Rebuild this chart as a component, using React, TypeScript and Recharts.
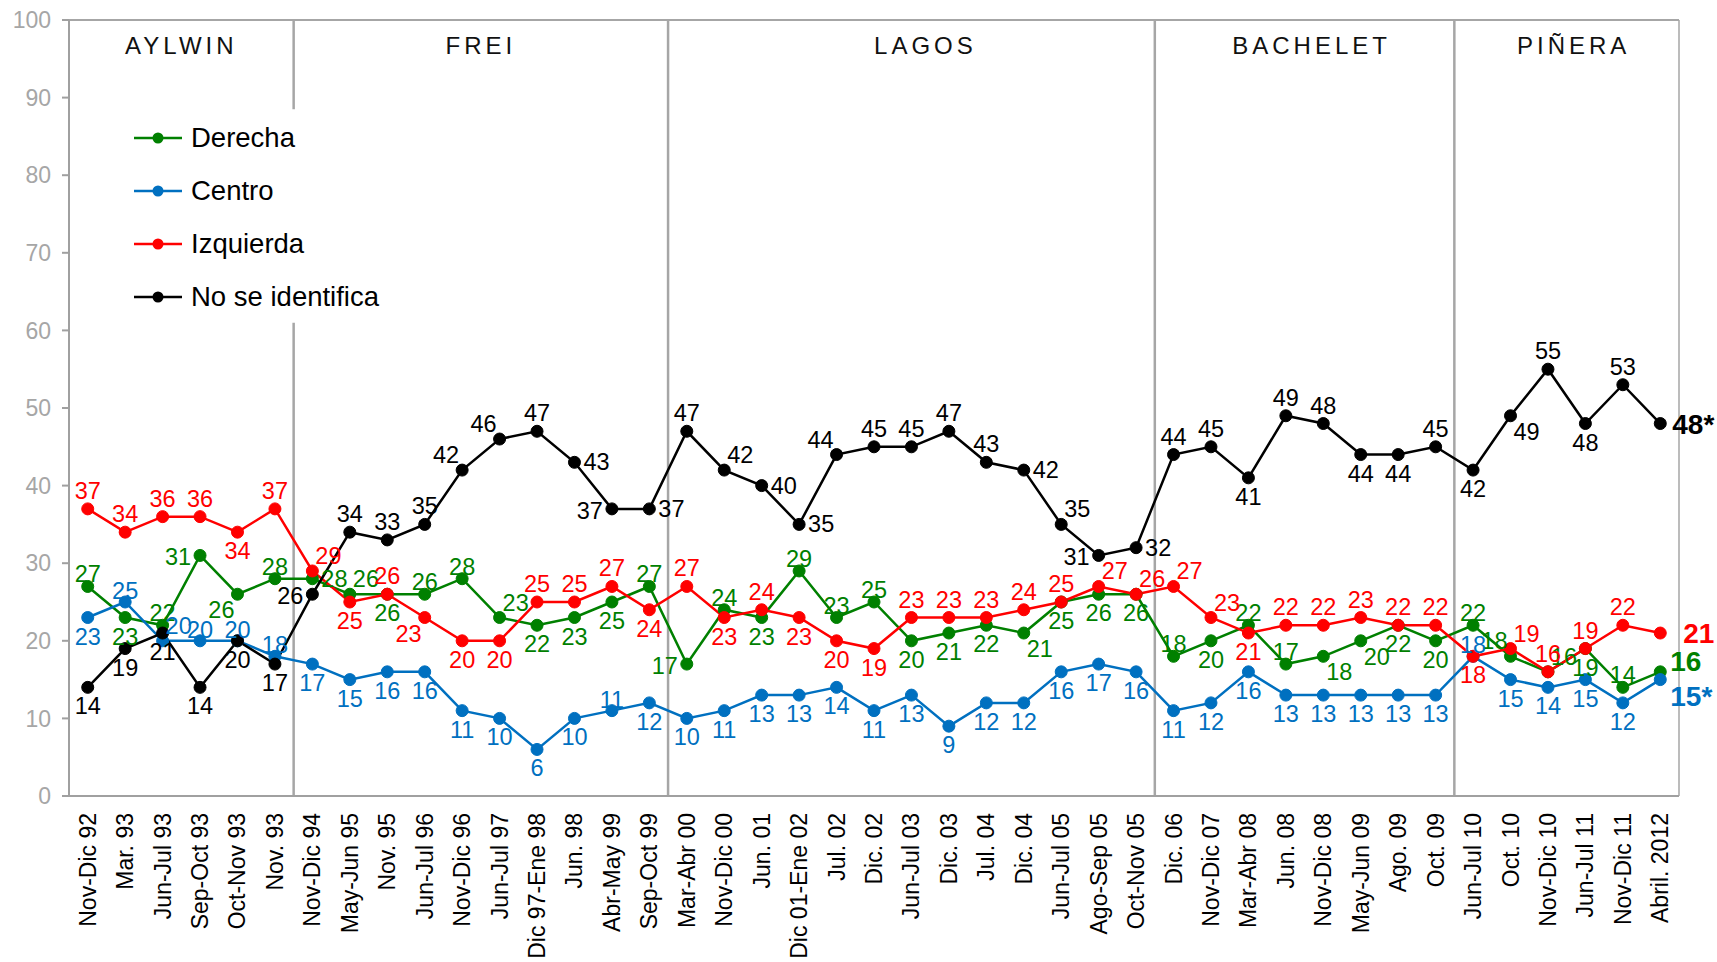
import {
  ComposedChart,
  LabelList,
  Legend,
  Line,
  ReferenceArea,
  ReferenceLine,
  XAxis,
  YAxis,
} from "recharts";

const CATEGORIES = [
  "Nov-Dic 92", "Mar. 93", "Jun-Jul 93", "Sep-Oct 93", "Oct-Nov 93", "Nov. 93",
  "Nov-Dic 94", "May-Jun 95", "Nov. 95", "Jun-Jul 96", "Nov-Dic 96", "Jun-Jul 97",
  "Dic 97-Ene 98", "Jun. 98", "Abr-May 99", "Sep-Oct 99", "Mar-Abr 00", "Nov-Dic 00",
  "Jun. 01", "Dic 01-Ene 02", "Jul. 02", "Dic. 02", "Jun-Jul 03", "Dic. 03",
  "Jul. 04", "Dic. 04", "Jun-Jul 05", "Ago-Sep 05", "Oct-Nov 05", "Dic. 06",
  "Nov-Dic 07", "Mar-Abr 08", "Jun. 08", "Nov-Dic 08", "May-Jun 09", "Ago. 09",
  "Oct. 09", "Jun-Jul 10", "Oct. 10", "Nov-Dic 10", "Jun-Jul 11", "Nov-Dic 11",
  "Abril. 2012",
];

const DERECHA = [27, 23, 22, 31, 26, 28, 28, 26, 26, 26, 28, 23, 22, 23, 25, 27, 17, 24, 23, 29, 23, 25, 20, 21, 22, 21, 25, 26, 26, 18, 20, 22, 17, 18, 20, 22, 20, 22, 18, 16, 19, 14, 16];
const CENTRO = [23, 25, 20, 20, 20, 18, 17, 15, 16, 16, 11, 10, 6, 10, 11, 12, 10, 11, 13, 13, 14, 11, 13, 9, 12, 12, 16, 17, 16, 11, 12, 16, 13, 13, 13, 13, 13, 18, 15, 14, 15, 12, 15];
const IZQUIERDA = [37, 34, 36, 36, 34, 37, 29, 25, 26, 23, 20, 20, 25, 25, 27, 24, 27, 23, 24, 23, 20, 19, 23, 23, 23, 24, 25, 27, 26, 27, 23, 21, 22, 22, 23, 22, 22, 18, 19, 16, 19, 22, 21];
const NO_IDENTIFICA = [14, 19, 21, 14, 20, 17, 26, 34, 33, 35, 42, 46, 47, 43, 37, 37, 47, 42, 40, 35, 44, 45, 45, 47, 43, 42, 35, 31, 32, 44, 45, 41, 49, 48, 44, 44, 45, 42, 49, 55, 48, 53, 48];

// presidential periods: first and last survey of each
const PERIODS = [
  { name: "AYLWIN", first: "Nov-Dic 92", last: "Nov. 93" },
  { name: "FREI", first: "Nov-Dic 94", last: "Sep-Oct 99" },
  { name: "LAGOS", first: "Mar-Abr 00", last: "Oct-Nov 05" },
  { name: "BACHELET", first: "Dic. 06", last: "Oct. 09" },
  { name: "PIÑERA", first: "Jun-Jul 10", last: "Abril. 2012" },
];
// small nudges of the period titles, px
const PERIOD_LABEL_DX: Record<string, number> = { LAGOS: 14, BACHELET: 7, PIÑERA: 7 };

const Y_TICKS = [0, 10, 20, 30, 40, 50, 60, 70, 80, 90, 100];

// label placement per point (t=top, b=bottom, l/r, diagonals, R* = bold end label)
type Pos = "t" | "b" | "l" | "r" | "tr" | "tl" | "br" | "bl" | "R" | "R2" | "Ru" | "Rd";

const DERECHA_POS: Pos[] = ["t", "b", "t", "l", "bl", "t", "r", "tr", "b", "t", "t", "tr", "b", "b", "b", "t", "l", "t", "b", "t", "t", "t", "b", "b", "b", "br", "b", "b", "b", "t", "b", "t", "t", "br", "br", "b", "b", "t", "tl", "tr", "b", "t", "Ru"];
const CENTRO_POS: Pos[] = ["b", "t", "tr", "t", "t", "t", "b", "b", "b", "b", "b", "b", "b", "b", "t", "b", "b", "b", "b", "b", "b", "b", "b", "b", "b", "b", "b", "b", "b", "b", "b", "b", "b", "b", "b", "b", "b", "t", "b", "b", "b", "b", "Rd"];
const IZQUIERDA_POS: Pos[] = ["t", "t", "t", "t", "b", "t", "tr", "b", "t", "bl", "b", "b", "t", "t", "t", "b", "t", "b", "t", "b", "b", "b", "t", "t", "t", "t", "t", "tr", "tr", "tr", "tr", "b", "t", "t", "t", "t", "t", "b", "tr", "t", "t", "t", "R2"];
const NO_IDENTIFICA_POS: Pos[] = ["b", "b", "b", "b", "b", "b", "l", "t", "t", "t", "tl", "tl", "t", "r", "l", "r", "t", "tr", "r", "r", "tl", "t", "t", "t", "t", "r", "tr", "l", "r", "t", "t", "b", "t", "t", "b", "b", "t", "b", "br", "t", "b", "t", "R"];

const FONT = '"Liberation Sans", Arial, Helvetica, sans-serif';
const AXIS_GRAY = "#a0a0a0";
const SEP_GRAY = "#a6a6a6";

const SERIES = [
  { key: "derecha", name: "Derecha", color: "#008000", values: DERECHA, pos: DERECHA_POS, topGap: 12, suffix: "" },
  { key: "centro", name: "Centro", color: "#0070C0", values: CENTRO, pos: CENTRO_POS, topGap: 11, suffix: "*" },
  { key: "izquierda", name: "Izquierda", color: "#FF0000", values: IZQUIERDA, pos: IZQUIERDA_POS, topGap: 18, suffix: "" },
  { key: "noId", name: "No se identifica", color: "#000000", values: NO_IDENTIFICA, pos: NO_IDENTIFICA_POS, topGap: 18, suffix: "*" },
];

const data = CATEGORIES.map((cat, i) => {
  const row: Record<string, string | number> = { cat, idx: i };
  SERIES.forEach((s) => {
    row[s.key] = s.values[i];
  });
  return row;
});

// tick marks sit between categories
const BOUNDARY_TICKS = CATEGORIES.map((_, i) => i - 0.5).concat(CATEGORIES.length - 0.5);

function offsetFor(p: Pos, topGap: number) {
  switch (p) {
    case "t": return { dx: 0, dy: -topGap, anchor: "middle", bold: false };
    case "b": return { dx: 0, dy: 19, anchor: "middle", bold: false };
    case "l": return { dx: -9, dy: 2, anchor: "end", bold: false };
    case "r": return { dx: 9, dy: 0, anchor: "start", bold: false };
    case "tr": return { dx: 3, dy: -15, anchor: "start", bold: false };
    case "tl": return { dx: -3, dy: -15, anchor: "end", bold: false };
    case "br": return { dx: 3, dy: 16, anchor: "start", bold: false };
    case "bl": return { dx: -3, dy: 16, anchor: "end", bold: false };
    case "R": return { dx: 12, dy: 1, anchor: "start", bold: true };
    case "R2": return { dx: 23, dy: 0, anchor: "start", bold: true };
    case "Ru": return { dx: 10, dy: -10, anchor: "start", bold: true };
    case "Rd": return { dx: 10, dy: 17, anchor: "start", bold: true };
  }
}

function makeLabel(color: string, pos: Pos[], topGap: number, suffix: string) {
  return (props: any) => {
    const x = typeof props.x === "number" ? props.x : props.viewBox?.x;
    const y = typeof props.y === "number" ? props.y : props.viewBox?.y;
    const index = props.index ?? 0;
    if (x == null || y == null) return null;
    const o = offsetFor(pos[index] ?? "t", topGap);
    const last = index === pos.length - 1;
    return (
      <text
        x={x + o.dx}
        y={y + o.dy}
        fill={color}
        textAnchor={o.anchor as any}
        dominantBaseline="central"
        fontSize={o.bold ? 28 : 23.5}
        fontWeight={o.bold ? 700 : 400}
        fontFamily={FONT}
      >
        {props.value}
        {last ? suffix : ""}
      </text>
    );
  };
}

function CategoryTick({ x, y, payload }: any) {
  return (
    <g transform={`translate(${x},${y})`}>
      <text
        transform="rotate(-90)"
        x={-16}
        y={0}
        textAnchor="end"
        dominantBaseline="central"
        fontSize={23}
        fontFamily={FONT}
        fill="#000"
      >
        {payload.value}
      </text>
    </g>
  );
}

function PeriodLabel(props: any) {
  const { x, y, width, height } = props.viewBox;
  return (
    <text
      x={x + width / 2 + (PERIOD_LABEL_DX[props.value] ?? 0)}
      y={y + height / 2}
      textAnchor="middle"
      dominantBaseline="central"
      fontSize={24}
      letterSpacing={4}
      fontFamily={FONT}
      fill="#111"
    >
      {props.value}
    </text>
  );
}

function LegendContent({ payload }: any) {
  const items = [...(payload ?? [])].sort(
    (a: any, b: any) =>
      SERIES.findIndex((s) => s.name === a.value) - SERIES.findIndex((s) => s.name === b.value),
  );
  return (
    <div style={{ fontFamily: FONT }}>
      {items.map((e: any) => (
        <div key={e.value} style={{ display: "flex", alignItems: "center", height: 53 }}>
          <svg width={48} height={14}>
            <line x1={0} y1={7} x2={48} y2={7} stroke={e.color} strokeWidth={2.5} />
            <circle cx={24} cy={7} r={5.5} fill={e.color} />
          </svg>
          <span style={{ marginLeft: 9, fontSize: 27.5, color: "#000", lineHeight: 1 }}>{e.value}</span>
        </div>
      ))}
    </div>
  );
}

export default function App() {
  return (
    <div style={{ width: 1717, height: 962, background: "#fff" }}>
      <style>{"body{margin:0}"}</style>
      <ComposedChart
        width={1717}
        height={962}
        data={data}
        margin={{ top: 20, right: 38, bottom: 0, left: 0 }}
      >
        <XAxis
          xAxisId={0}
          dataKey="idx"
          type="number"
          domain={["dataMin - 0.5", "dataMax + 0.5"]}
          ticks={BOUNDARY_TICKS}
          interval={0}
          tick={false}
          tickSize={8}
          tickLine={{ stroke: AXIS_GRAY, strokeWidth: 2 }}
          axisLine={{ stroke: AXIS_GRAY, strokeWidth: 2 }}
          height={1}
        />
        <XAxis
          xAxisId={1}
          dataKey="cat"
          type="category"
          scale="band"
          interval={0}
          tick={<CategoryTick />}
          tickLine={false}
          axisLine={false}
          tickSize={0}
          tickMargin={0}
          height={165}
        />
        <YAxis
          domain={[0, 100]}
          ticks={Y_TICKS}
          interval={0}
          width={69}
          tick={{ fill: "#a6a6a6", fontSize: 23, fontFamily: FONT }}
          tickSize={7}
          tickMargin={11}
          tickLine={{ stroke: AXIS_GRAY, strokeWidth: 2 }}
          axisLine={{ stroke: AXIS_GRAY, strokeWidth: 2 }}
        />

        <ReferenceLine xAxisId={1} y={100} stroke={SEP_GRAY} strokeWidth={2} />
        <ReferenceLine
          xAxisId={1}
          x={CATEGORIES[CATEGORIES.length - 1]}
          position="end"
          stroke={SEP_GRAY}
          strokeWidth={1.5}
        />
        <ReferenceLine
          xAxisId={1}
          segment={[{ x: PERIODS[1].first, y: 100 }, { x: PERIODS[1].first, y: 88.5 }]}
          position="start"
          stroke={SEP_GRAY}
          strokeWidth={2.5}
        />
        <ReferenceLine
          xAxisId={1}
          segment={[{ x: PERIODS[1].first, y: 61 }, { x: PERIODS[1].first, y: 0 }]}
          position="start"
          stroke={SEP_GRAY}
          strokeWidth={2.5}
        />
        {PERIODS.slice(2).map((p) => (
          <ReferenceLine key={p.name} xAxisId={1} x={p.first} position="start" stroke={SEP_GRAY} strokeWidth={2.5} />
        ))}
        {PERIODS.map((p) => (
          <ReferenceArea
            key={p.name}
            xAxisId={1}
            x1={p.first}
            x2={p.last}
            y1={93.3}
            y2={100}
            fill="none"
            fillOpacity={0}
            stroke="none"
            label={{ value: p.name, content: PeriodLabel }}
          />
        ))}

        <Legend
          layout="vertical"
          align="center"
          verticalAlign="middle"
          content={<LegendContent />}
          wrapperStyle={{ left: 134, top: 111, width: "auto", height: "auto" }}
        />

        {SERIES.map((s) => (
          <Line
            key={s.key}
            xAxisId={1}
            dataKey={s.key}
            name={s.name}
            stroke={s.color}
            strokeWidth={2.5}
            dot={{ r: 6, fill: s.color, stroke: s.color, strokeWidth: 1 }}
            activeDot={false}
            isAnimationActive={false}
          >
            <LabelList dataKey={s.key} content={makeLabel(s.color, s.pos, s.topGap, s.suffix)} />
          </Line>
        ))}
      </ComposedChart>
    </div>
  );
}
